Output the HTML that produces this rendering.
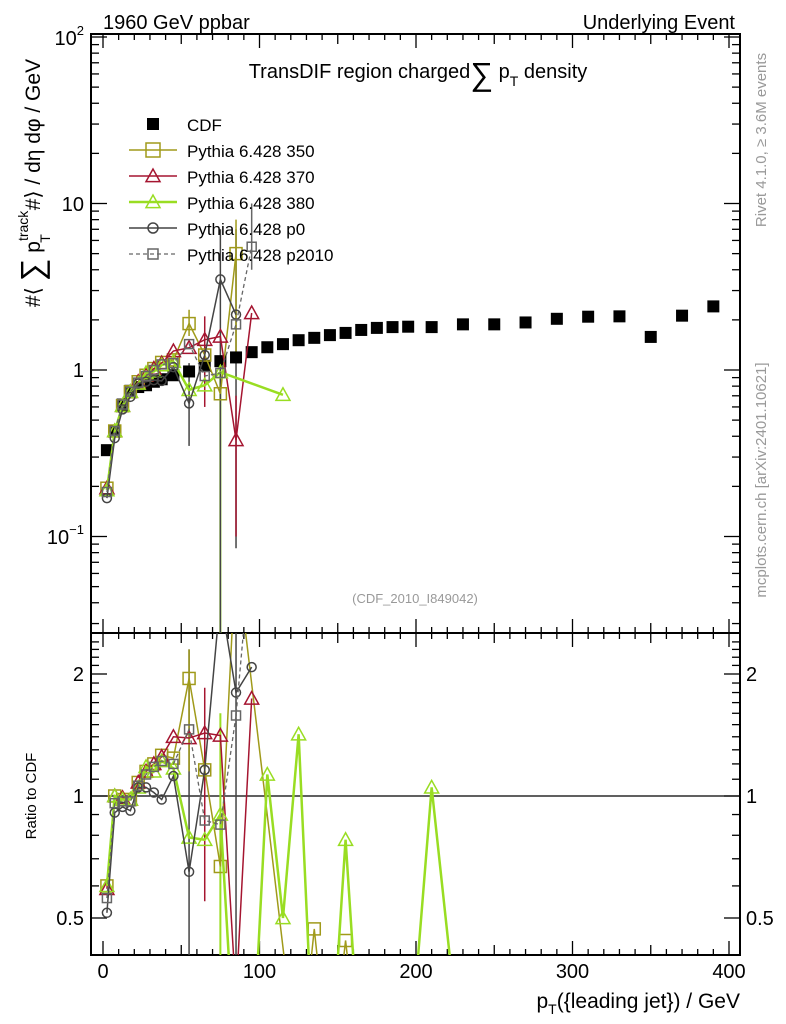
<!DOCTYPE html>
<html><head><meta charset="utf-8"><style>
html,body{margin:0;padding:0;background:#fff;overflow:hidden;width:786px;height:1024px;}
svg{font-family:"Liberation Sans",sans-serif;display:block;}
</style></head><body>
<svg id="c" width="786" height="1024" viewBox="0 0 786 1024" xmlns="http://www.w3.org/2000/svg">
<g id="frames"></g>
<g id="marks"></g>
<text x="103" y="29" font-size="20">1960 GeV ppbar</text>
<text x="735" y="29" font-size="20" text-anchor="end">Underlying Event</text>
<text x="418" y="78" font-size="20" text-anchor="middle">TransDIF region charged<tspan font-size="32" dy="7">∑</tspan><tspan dy="-7"> p</tspan><tspan font-size="14" dy="8">T</tspan><tspan dy="-8">  density</tspan></text>
<text x="415" y="603" font-size="13" fill="#999" text-anchor="middle">(CDF_2010_I849042)</text>
<text transform="translate(766,140) rotate(-90)" font-size="15" fill="#999" text-anchor="middle">Rivet 4.1.0, ≥ 3.6M events</text>
<text transform="translate(766,480) rotate(-90)" font-size="15" fill="#999" text-anchor="middle">mcplots.cern.ch [arXiv:2401.10621]</text>
<text transform="translate(40,183) rotate(-90)" font-size="21" text-anchor="middle">#⟨ <tspan font-size="32" dy="3">∑</tspan><tspan dy="-3"> p</tspan><tspan font-size="14" dy="-12">track</tspan><tspan font-size="14" dx="-32" dy="22">T</tspan><tspan dx="18" dy="-10"> #⟩ / dη dφ / GeV</tspan></text>
<text transform="translate(36,796) rotate(-90)" font-size="15" text-anchor="middle">Ratio to CDF</text>
<text x="740" y="1008" font-size="21" text-anchor="end">p<tspan font-size="14" dy="6">T</tspan><tspan dy="-6">({leading jet}) / GeV</tspan></text>
<g id="legend"></g>
</svg>
<script>
const xsLow=[2.5,7.5,12.5,17.5,22.5,27.5,32.5,37.5,45,55,65,75,85,95];
const xsCDF=[2.5,7.5,12.5,17.5,22.5,27.5,32.5,37.5,45,55,65,75,85,95,105,115,125,135,145,155,165,175,185,195,210,230,250,270,290,310,330,350,370,390];
const cdfVals=[0.33,0.43,0.62,0.75,0.79,0.81,0.85,0.88,0.93,0.98,1.06,1.13,1.19,1.28,1.37,1.43,1.51,1.56,1.62,1.67,1.74,1.79,1.81,1.82,1.81,1.88,1.88,1.93,2.03,2.09,2.1,1.58,2.12,2.41];
const p350=[0.195,0.43,0.61,0.74,0.85,0.93,1.02,1.11,1.15,1.9,1.23,0.72,5.0,null];
const p370=[0.195,0.43,0.61,0.74,0.85,0.93,1.02,1.1,1.3,1.36,1.52,1.59,0.38,2.2];
const p380x=[2.5,7.5,12.5,17.5,22.5,27.5,32.5,37.5,45,55,65,75,115];
const p380=[0.19,0.43,0.61,0.74,0.83,0.96,0.98,1.07,1.12,0.76,0.81,0.97,0.71];
const pp0=[0.17,0.39,0.58,0.69,0.83,0.85,0.87,0.86,1.04,0.63,1.23,3.5,2.15,null];
const pp2010=[0.185,0.43,0.62,0.74,0.84,0.92,1.0,1.08,1.1,1.43,0.92,0.96,1.88,5.5];
const r350x=[2.5,7.5,12.5,17.5,22.5,27.5,32.5,37.5,45,55,65,75,85,125,135,145,155,165];
const r350=[0.6,1.0,0.98,0.98,1.08,1.15,1.2,1.26,1.24,1.95,1.16,0.67,4.0,0.2,0.47,0.2,0.44,0.2];
const r370=[0.59,1.0,0.99,0.98,1.08,1.15,1.2,1.25,1.4,1.39,1.43,1.41,0.32,1.74];
const r380x=[2.5,7.5,12.5,17.5,22.5,27.5,32.5,37.5,45,55,65,75,85,95,105,115,125,135,145,155,165,195,210,230];
const r380=[0.6,1.0,0.98,0.98,1.05,1.18,1.15,1.22,1.17,0.79,0.78,0.9,0.2,0.2,1.13,0.5,1.42,0.2,0.2,0.78,0.2,0.2,1.05,0.2];
const r0=[0.515,0.91,0.94,0.92,1.05,1.05,1.02,0.98,1.12,0.65,1.16,3.1,1.8,2.08];
const r2010=[0.56,0.96,0.97,0.97,1.06,1.13,1.18,1.22,1.2,1.46,0.87,0.85,1.58,4.3];
const xTicks=[0,100,200,300,400];

const NS="http://www.w3.org/2000/svg";
const L=91,Rr=740,T=34,MB=633,RB=955;
const X=v=>103+v*1.565;
const Y=v=>370-166.5*Math.log10(v);
const RY=r=>796-122*Math.log2(r);
function mk(tag,attrs,parent){const e=document.createElementNS(NS,tag);for(const k in attrs)e.setAttribute(k,attrs[k]);parent.appendChild(e);return e;}
const frames=document.getElementById('frames'),marks=document.getElementById('marks'),leg=document.getElementById('legend');

const defs=mk('defs',{},frames);
const c1=mk('clipPath',{id:'cm'},defs);mk('rect',{x:L,y:T,width:Rr-L,height:MB-T},c1);
const c2=mk('clipPath',{id:'cr'},defs);mk('rect',{x:L,y:MB,width:Rr-L,height:RB-MB},c2);

let f1=mk('rect',{x:L,y:T,width:Rr-L,height:MB-T,fill:'none',stroke:'#000','stroke-width':2},frames);

let f2=mk('rect',{x:L,y:MB,width:Rr-L,height:RB-MB,fill:'none',stroke:'#000','stroke-width':2},frames);


for(let v=-10;v<=400;v+=10){const x=X(v);if(x<L||x>Rr)continue;const len=v%100===0?14:(v%50===0?10:6);
 [[T,1],[MB,-1],[MB,1],[RB,-1]].forEach(([y0,d])=>mk('line',{x1:x,x2:x,y1:y0,y2:y0+d*len,stroke:'#000','stroke-width':1.3},frames));}
xTicks.forEach(v=>{const t=mk('text',{x:X(v),y:978,'font-size':20,'text-anchor':'middle'},frames);t.textContent=v;
 });

for(let e=-2;e<=2;e++)for(let m=1;m<10;m++){const v=m*Math.pow(10,e);const y=Y(v);if(y<T||y>MB)continue;const len=m===1?16:8;
 mk('line',{x1:L,x2:L+len,y1:y,y2:y,stroke:'#000','stroke-width':1.3},frames);mk('line',{x1:Rr,x2:Rr-len,y1:y,y2:y,stroke:'#000','stroke-width':1.3},frames);}
[['10','2',45],['10',null,211],['1',null,377],['10','−1',544]].forEach(([b,e,y])=>{const t=mk('text',{x:84,y:y,'font-size':20,'text-anchor':'end'},frames);
 t.textContent=b;if(e){const s=mk('tspan',{'font-size':13,dy:-10},t);s.textContent=e;}
 });

for(let r=0.4;r<=2.5;r+=0.1){const y=RY(r);if(y<MB||y>RB)continue;const maj=[0.5,1,2].some(q=>Math.abs(q-r)<1e-6);const len=maj?16:8;
 mk('line',{x1:L,x2:L+len,y1:y,y2:y,stroke:'#000','stroke-width':1.3},frames);mk('line',{x1:Rr,x2:Rr-len,y1:y,y2:y,stroke:'#000','stroke-width':1.3},frames);}
[0.5,1,2].forEach(r=>{[[84,'end'],[746,'start']].forEach(([x,a])=>{const t=mk('text',{x:x,y:RY(r)+7,'font-size':20,'text-anchor':a},frames);t.textContent=r;
 });});
let one=mk('line',{x1:L,x2:Rr,y1:RY(1),y2:RY(1),stroke:'#000','stroke-width':1.3},frames);


function marker(g,type,x,y,col,s){
 if(type==='sq')return mk('rect',{x:x-s,y:y-s,width:2*s,height:2*s,fill:'none',stroke:col,'stroke-width':1.5},g);
 if(type==='tri')return mk('polygon',{points:`${x},${y-s} ${x-s},${y+s*0.8} ${x+s},${y+s*0.8}`,fill:'none',stroke:col,'stroke-width':1.5},g);
 if(type==='circ')return mk('circle',{cx:x,cy:y,r:s,fill:'none',stroke:col,'stroke-width':1.5},g);
 if(type==='fsq')return mk('rect',{x:x-s,y:y-s,width:2*s,height:2*s,fill:col},g);}
function series(name,xs,vals,yf,clip,col,type,size,width,dash){
 const g=mk('g',{'clip-path':`url(#${clip})`},marks);
 
 let d='',pen=false;xs.forEach((x,i)=>{const v=vals[i];if(v==null){pen=false;return;}d+=(pen?'L':'M')+X(x)+','+yf(v);pen=true;});
 if(type!=='fsq')mk('path',{d:d,fill:'none',stroke:col,'stroke-width':width,'stroke-dasharray':dash||'none'},g);
 xs.forEach((x,i)=>{const v=vals[i];if(v==null)return;const m=marker(g,type,X(x),yf(v),col,size);
  });}
const OL='#a09a1a',RD='#a51530',GR='#99dd22',G0='#444',G1='#666';
function err(xv,lo,hi,col,clip,w){const g=mk('g',{'clip-path':`url(#${clip})`},marks);const e=mk('line',{x1:X(xv),x2:X(xv),y1:lo,y2:hi,stroke:col,'stroke-width':w||1.5},g);
 }
err(75,Y(0.01),Y(1.05),GR,'cm',2);err(85,Y(0.085),Y(7),G0,'cm');err(75,Y(0.01),Y(7),G0,'cm');err(85,Y(1.2),Y(8),OL,'cm');
err(55,Y(1.6),Y(2.3),OL,'cm');err(55,Y(0.35),Y(1.1),G0,'cm');err(65,Y(0.6),Y(2.1),RD,'cm');err(85,Y(0.1),Y(0.7),RD,'cm');err(95,Y(4),Y(10),G1,'cm');
err(55,RY(0.4),RY(2.3),G0,'cr');err(55,RY(1.15),RY(2.3),OL,'cr');err(65,RY(0.55),RY(1.85),RD,'cr');err(75,RY(0.3),RY(1.6),GR,'cr',2);err(85,RY(0.3),RY(2.6),G0,'cr');

series('cdf-data',xsCDF,cdfVals,Y,'cm','#000','fsq',6,0);
series('pythia-350',xsLow,p350,Y,'cm',OL,'sq',6,1.5);
series('pythia-370',xsLow,p370,Y,'cm',RD,'tri',7,1.5);
series('pythia-380',p380x,p380,Y,'cm',GR,'tri',7,2.5);
series('pythia-p0',xsLow,pp0,Y,'cm',G0,'circ',4.5,1.5);
series('pythia-p2010',xsLow,pp2010,Y,'cm',G1,'sq',4.5,1.3,'4,3');
series('ratio-350',r350x,r350,RY,'cr',OL,'sq',6,1.5);
series('ratio-370',xsLow,r370,RY,'cr',RD,'tri',7,1.5);
series('ratio-380',r380x,r380,RY,'cr',GR,'tri',7,2.5);
series('ratio-p0',xsLow,r0,RY,'cr',G0,'circ',4.5,1.5);
series('ratio-p2010',xsLow,r2010,RY,'cr',G1,'sq',4.5,1.3,'4,3');

const items=[['CDF','#000','fsq',0,null],['Pythia 6.428 350',OL,'sq',1.5,null],['Pythia 6.428 370',RD,'tri',1.5,null],['Pythia 6.428 380',GR,'tri',2.5,null],['Pythia 6.428 p0',G0,'circ',1.5,null],['Pythia 6.428 p2010',G1,'sq',1.3,'4,3']];
items.forEach((it,i)=>{const y=124+i*26;const g=mk('g',{},leg);
 if(it[2]!=='fsq')mk('line',{x1:129,x2:177,y1:y,y2:y,stroke:it[1],'stroke-width':it[3],'stroke-dasharray':it[4]||'none'},g);
 const s=it[2]==='fsq'?6:(it[2]==='circ'||i===5?5:7);marker(g,it[2],153,y,it[1],s);
 const t=mk('text',{x:187,y:y+7,'font-size':17},g);t.textContent=it[0];});
</script>
</body></html>
